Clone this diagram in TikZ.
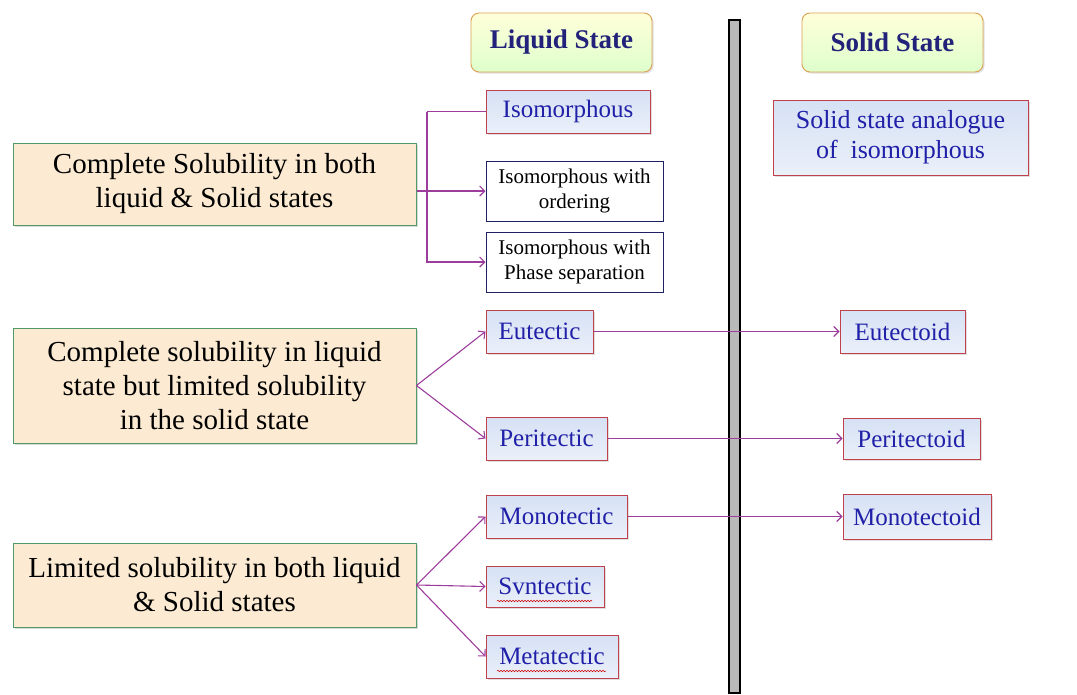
\documentclass[tikz,border=0pt]{standalone}
\usepackage{fontspec}
\setmainfont{Liberation Serif}
\usetikzlibrary{arrows.meta, shadows, decorations.pathmorphing}

\definecolor{linkpurple}{HTML}{9C3D9C}
\definecolor{boxred}{HTML}{C0404C}
\definecolor{boxnavy}{HTML}{1E2262}
\definecolor{labelblue}{HTML}{2020A8}
\definecolor{titleblue}{HTML}{22227A}
\definecolor{edgeorange}{HTML}{DDA050}
\definecolor{edgegreen}{HTML}{4F9A68}
\definecolor{paleblue}{HTML}{D6E1F4}
\definecolor{palebeige}{HTML}{FCEBD2}

\begin{document}
\begin{tikzpicture}[x=1pt, y=-1pt,
    link/.style={linkpurple, line width=1.1pt, -{Straight Barb[length=5pt, width=10pt]}},
    header/.style={draw=edgeorange, line width=0.9pt, rounded corners=8pt,
        top color=yellow!15, bottom color=yellow!35!green!20,
        text=titleblue, font=\fontsize{27}{30}\selectfont\bfseries,
        inner sep=0pt, drop shadow={opacity=0.25, shadow xshift=1.5pt, shadow yshift=-1.5pt}},
    groupbox/.style={draw=edgegreen, line width=1pt, fill=palebeige, align=center,
        font=\fontsize{29}{34}\selectfont, inner sep=0pt, minimum width=403pt,
        drop shadow={opacity=0.3, shadow xshift=1.5pt, shadow yshift=-2pt}},
    kindbox/.style={draw=boxred, line width=1pt, top color=paleblue, bottom color=paleblue!50,
        text=labelblue, align=center, font=\fontsize{25}{29}\selectfont, inner sep=0pt,
        drop shadow={opacity=0.25, shadow xshift=1.5pt, shadow yshift=-1.5pt}},
    subbox/.style={draw=boxnavy, line width=1pt, fill=white, align=center,
        font=\fontsize{21}{25}\selectfont, inner sep=0pt, minimum width=177pt, minimum height=60pt},
    spell/.style={red!80!black, line width=0.5pt, decorate,
        decoration={snake, amplitude=0.8pt, segment length=3pt}}]

    \useasboundingbox (0,0) rectangle (1077,694);

    % dividing bar
    \draw[black, line width=2pt, fill=gray!55] (729,20) rectangle (740,693);

    % column titles
    \node[header, minimum width=181pt, minimum height=59pt] (liquid) at (561.5,42.5) {Liquid State};
    \node[header, minimum width=181pt, minimum height=59pt] (solid) at (892.5,42.5) {Solid State};

    % groups
    \node[groupbox, minimum height=82pt] (box1) at (214.5,184) {Complete Solubility in both\\liquid \& Solid states};
    \node[groupbox, minimum height=115pt] (box2) at (214.5,385.5) {Complete solubility in liquid\\state but limited solubility\\in the solid state};
    \node[groupbox, minimum height=84pt] (box3) at (214.5,585) {Limited solubility in both liquid\\\& Solid states};

    % liquid state reactions
    \node[kindbox, minimum width=164pt, minimum height=43pt] (iso) at (568,111.5) {Isomorphous};
    \node[subbox] (isoorder) at (574.5,191) {Isomorphous with\\ordering};
    \node[subbox] (isophase) at (574.5,262) {Isomorphous with\\Phase separation};
    \node[kindbox, minimum width=107pt, minimum height=43pt] (eutectic) at (539.5,331.5) {Eutectic};
    \node[kindbox, minimum width=121pt, minimum height=43pt] (peritectic) at (546.5,438.5) {Peritectic};
    \node[kindbox, minimum width=141pt, minimum height=43pt] (monotectic) at (556.5,516.5) {Monotectic};
    \node[kindbox, minimum width=118pt, minimum height=41pt] (syntectic) at (545,586.5) {Svntectic};
    \node[kindbox, minimum width=132pt, minimum height=43pt] (metatectic) at (552,656.5) {Metatectic};

    % solid state reactions
    \node[kindbox, minimum width=255pt, minimum height=75pt, font=\fontsize{26}{30}\selectfont] (solidiso) at (900.5,137.5) {Solid state analogue\\of~ isomorphous};
    \node[kindbox, minimum width=125pt, minimum height=43pt] (eutectoid) at (902.5,331.5) {Eutectoid};
    \node[kindbox, minimum width=137pt, minimum height=41pt] (peritectoid) at (911.5,438.5) {Peritectoid};
    \node[kindbox, minimum width=148pt, minimum height=45pt] (monotectoid) at (917,516.5) {Monotectoid};

    % spelling marks
    \draw[spell] (497,601) -- (592,601);
    \draw[spell] (497,671) -- (606,671);

    % connectors
    \coordinate (split) at (427,191);
    \draw[link, -] (split |- iso.west) -- (iso.west);
    \draw[link] (split |- iso.west) |- (isophase.west);
    \draw[link] (box1.east |- isoorder.west) -- (isoorder.west);

    \draw[link] (box2.east) -- (eutectic.west);
    \draw[link] (box2.east) -- (peritectic.west);

    \draw[link] (box3.east) -- (monotectic.west);
    \draw[link] (box3.east) -- (syntectic.west);
    \draw[link] (box3.east) -- (metatectic.west);

    \draw[link] (eutectic.east) -- (eutectoid.west);
    \draw[link] (peritectic.east) -- (peritectoid.west);
    \draw[link] (monotectic.east) -- (monotectoid.west);
\end{tikzpicture}
\end{document}
